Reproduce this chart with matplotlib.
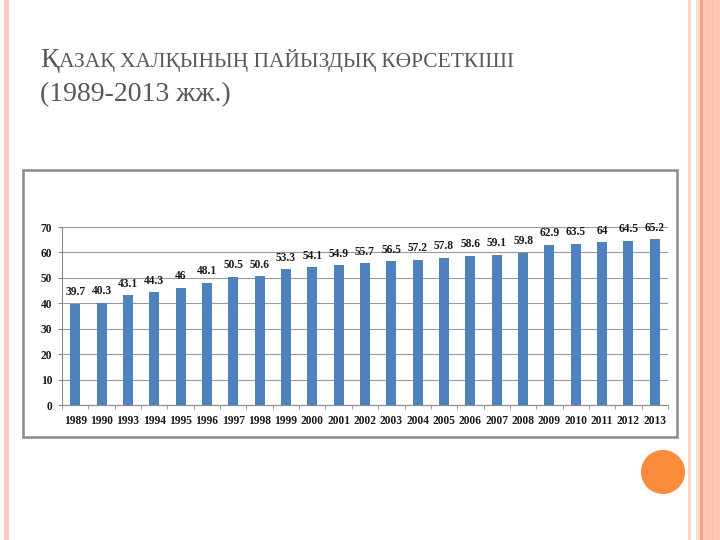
import matplotlib.pyplot as plt
from matplotlib.patches import Rectangle, Ellipse
from matplotlib.offsetbox import TextArea, HPacker, AnchoredOffsetbox

years = ['1989', '1990', '1993', '1994', '1995', '1996', '1997', '1998', '1999', '2000',
         '2001', '2002', '2003', '2004', '2005', '2006', '2007', '2008', '2009', '2010',
         '2011', '2012', '2013']
values = [39.7, 40.3, 43.1, 44.3, 46, 48.1, 50.5, 50.6, 53.3, 54.1,
          54.9, 55.7, 56.5, 57.2, 57.8, 58.6, 59.1, 59.8, 62.9, 63.5,
          64, 64.5, 65.2]
labels = ['39.7', '40.3', '43.1', '44.3', '46', '48.1', '50.5', '50.6', '53.3', '54.1',
          '54.9', '55.7', '56.5', '57.2', '57.8', '58.6', '59.1', '59.8', '62.9', '63.5',
          '64', '64.5', '65.2']
title_line1 = 'Қазақ халқының пайыздық көрсеткіші'
title_line2 = '(1989-2013 жж.)'

serif = ['Liberation Serif', 'DejaVu Serif']
W, H = 720, 540

fig = plt.figure(figsize=(7.2, 5.4), dpi=100)
fig.patch.set_facecolor('white')

# slide decorations
fig.add_artist(Rectangle((4 / W, 0), 5 / W, 1, transform=fig.transFigure, color='#f9cbbd', lw=0))
for left, width, col in [(688, 3, '#f9d3c3'), (696, 4, '#fcd9cd'), (700, 3, '#f0a486'),
                         (703, 17, '#fdc6b4'), (707, 1, '#f7b9a4'), (712, 1, '#f7bca8')]:
    fig.add_artist(Rectangle((left / W, 0), width / W, 1, transform=fig.transFigure,
                             color=col, lw=0))
fig.add_artist(Ellipse((663 / W, 1 - 472 / H), 44 / W, 44 / H, transform=fig.transFigure,
                       color='#f98b3b', lw=0))

# chart frame
fig.add_artist(Rectangle((23 / W, 1 - 437 / H), 654 / W, 267 / H, transform=fig.transFigure,
                         facecolor='white', edgecolor='#8a8a8a', lw=1.8, zorder=-1))

# title with small caps on the first line
big = dict(fontsize=20, color='#595959', family=serif)
small = dict(fontsize=15.5, color='#595959', family=serif)
parts = [TextArea(title_line1[0], textprops=big),
         TextArea(title_line1[1:].upper(), textprops=small)]
pack = HPacker(children=parts, align='baseline', pad=0, sep=0)
ab = AnchoredOffsetbox(loc='lower left', child=pack, pad=0, frameon=False,
                       bbox_to_anchor=(40 / W, 1 - 73 / H), bbox_transform=fig.transFigure,
                       borderpad=0)
fig.add_artist(ab)
fig.text(40 / W, 1 - 101 / H, title_line2, fontsize=20, color='#595959', family=serif,
         va='baseline', ha='left')

# bar chart
ax = fig.add_axes([62 / W, 1 - 405 / H, 606 / W, 178 / H])
ax.set_zorder(2)
xs = range(len(years))
bars = ax.bar(xs, values, width=0.38, color='#4f81bd', zorder=3)
for b, lab in zip(bars, labels):
    ax.annotate(lab, (b.get_x() + b.get_width() / 2, b.get_height()),
                xytext=(0, 4), textcoords='offset points', ha='center', va='bottom',
                fontsize=8.3, fontweight='bold', family=serif, color='#1a1a1a')

ax.set_xlim(-0.5, len(years) - 0.5)
ax.set_ylim(0, 70)
ax.set_yticks(range(0, 71, 10))
ax.set_xticks(list(xs))
ax.set_xticklabels(years)
ax.set_xticks([i - 0.5 for i in range(len(years) + 1)], minor=True)
ax.tick_params(axis='x', which='major', length=0, pad=7)
ax.tick_params(axis='x', which='minor', length=3, color='#8a8a8a')
ax.tick_params(axis='y', length=3, color='#8a8a8a', pad=4)
for t in ax.get_xticklabels() + ax.get_yticklabels():
    t.set_fontsize(8.3)
    t.set_fontweight('bold')
    t.set_family(serif)
    t.set_color('#1a1a1a')

ax.yaxis.grid(True, color='#9a9a9a', lw=0.8, zorder=0)
ax.set_axisbelow(True)
for s in ['top', 'right']:
    ax.spines[s].set_visible(False)
for s in ['left', 'bottom']:
    ax.spines[s].set_color('#8a8a8a')
    ax.spines[s].set_linewidth(0.8)
ax.set_facecolor('none')

fig.savefig('out.png', dpi=100)
